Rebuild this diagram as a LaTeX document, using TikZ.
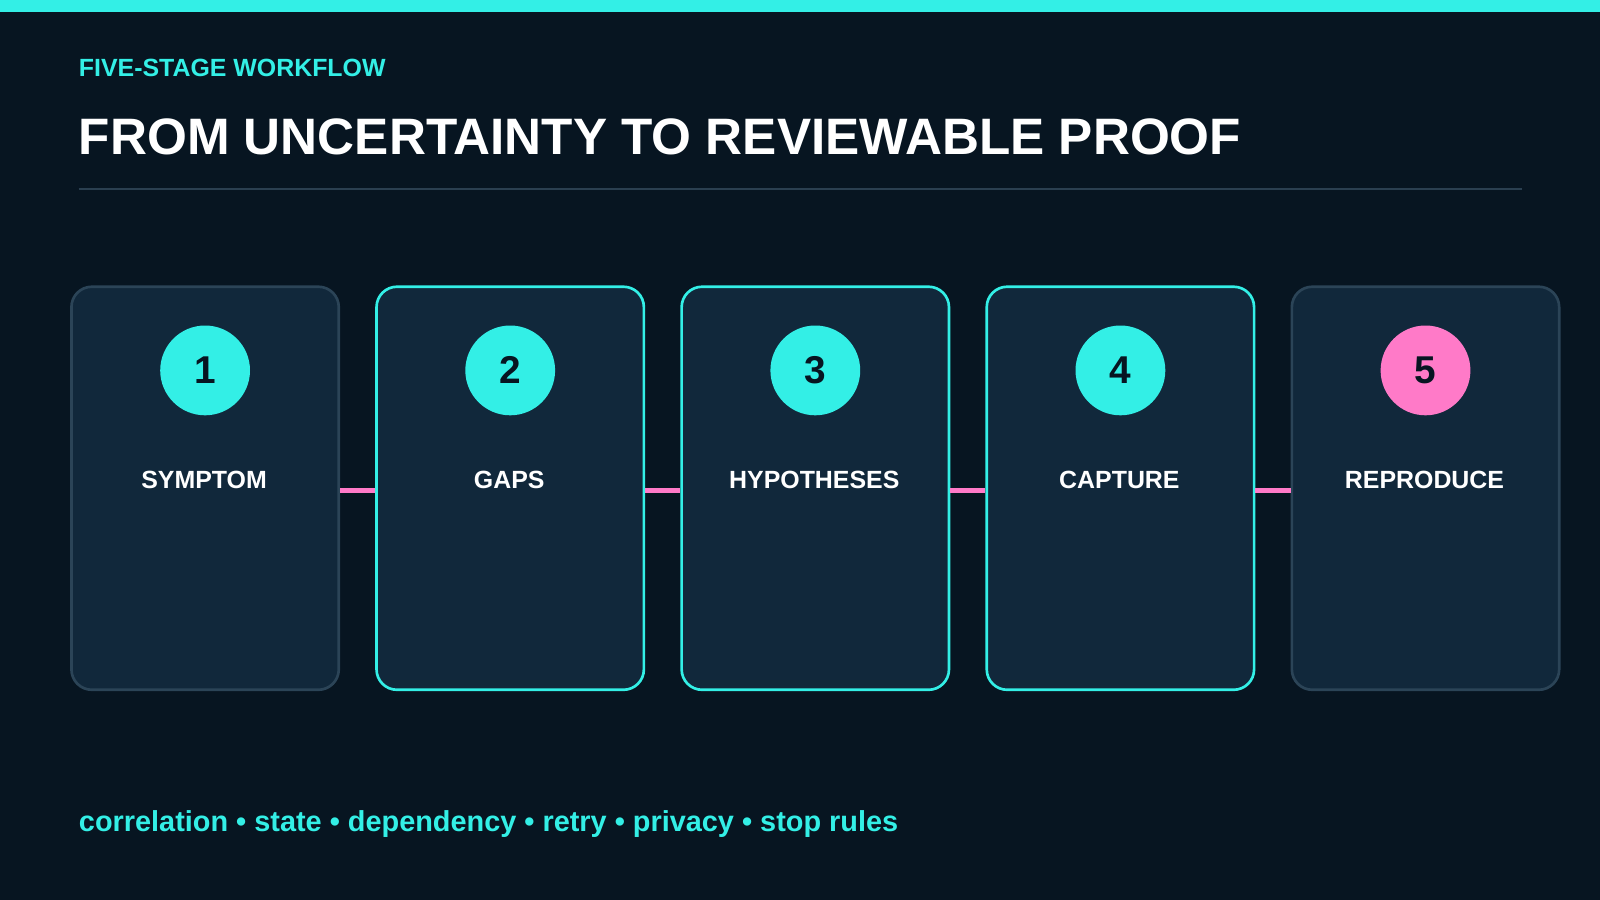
\documentclass[tikz,border=0pt]{standalone}
\usepackage{fontspec}
\setmainfont{Liberation Sans}
\definecolor{bg}{HTML}{071521}
\definecolor{cy}{HTML}{33EFE6}
\definecolor{pk}{HTML}{FF7AC8}
\definecolor{cardf}{HTML}{11283B}
\definecolor{cardb}{HTML}{2B4457}
\definecolor{rule}{HTML}{2A3F50}
\begin{document}
\begin{tikzpicture}[x=0.5pt,y=-0.5pt,
  card/.style={draw=#1,line width=1.3pt,fill=cardf,rounded corners=10pt,minimum width=131pt,minimum height=197.5pt,inner sep=0pt},
  num/.style={circle,fill=#1,minimum size=44pt,inner sep=0pt,font=\fontsize{19}{19}\selectfont\bfseries,text=bg},
  lab/.style={font=\fontsize{12.2}{12.2}\selectfont\bfseries,text=white},
  link/.style={draw=pk,line width=2.5pt}]
\fill[bg] (0,0) rectangle (1568,882);
\useasboundingbox (0,0) rectangle (1568,882);
\fill[cy] (0,0) rectangle (1568,12);
\node[anchor=base west,inner sep=0pt,text=cy,font=\fontsize{12.2}{12.2}\selectfont\bfseries] (sub) at (77,75) {FIVE-STAGE WORKFLOW};
\node[anchor=base west,inner sep=0pt,text=white,font=\fontsize{25.1}{25.1}\selectfont\bfseries] (title) at (77,151) {FROM UNCERTAINTY TO REVIEWABLE PROOF};
\draw[rule,line width=0.8pt] (77,185) -- (1492,185);
\foreach \i/\x/\b/\c/\t in {1/201/cardb/cy/SYMPTOM,2/500/cy/cy/GAPS,3/799/cy/cy/HYPOTHESES,4/1098/cy/cy/CAPTURE,5/1397/cardb/pk/REPRODUCE}{
  \node[card=\b] (c\i) at (\x,478.5) {};
  \node[num=\c] (n\i) at (\x,363) {\i};
  \node[lab,anchor=base] (l\i) at (\x-1,479) {\t};
}
\foreach \a/\b in {1/2,2/3,3/4,4/5}{
  \draw[link] (c\a.east |- 0,481) -- (c\b.west |- 0,481);
}
\node[anchor=base west,inner sep=0pt,text=cy,font=\fontsize{14.15}{14.15}\selectfont\bfseries] (foot) at (77,815) {correlation • state • dependency • retry • privacy • stop rules};
\end{tikzpicture}
\end{document}
